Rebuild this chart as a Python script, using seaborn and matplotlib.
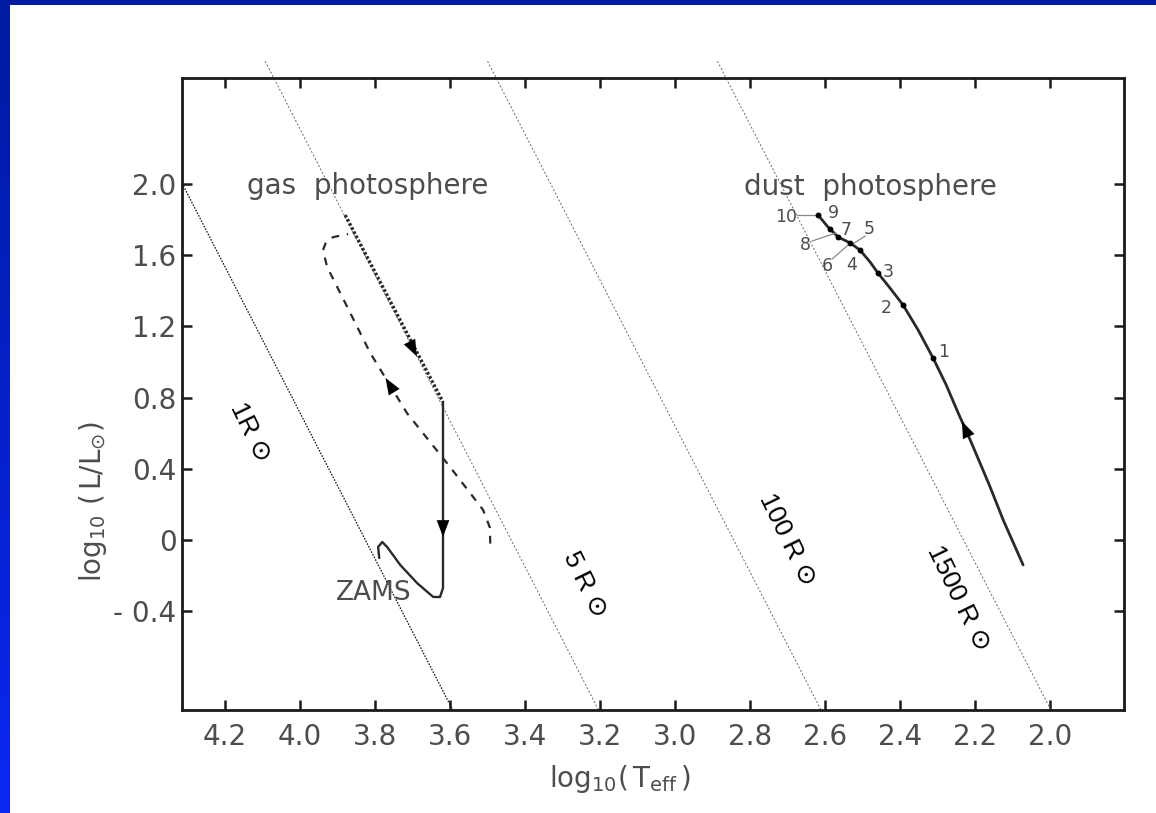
import numpy as np
import matplotlib
matplotlib.use("Agg")
import matplotlib.pyplot as plt
from matplotlib.patches import Rectangle
import seaborn as sns

# ---- data: HR-diagram tracks in (log10 Teff, log10 L/Lsun) ----
# gas photosphere: contraction (dotted), drop to the ZAMS (solid), return loop (dashed)
gas_descent_x = [3.880, 3.619]
gas_descent_y = [1.826, 0.775]
gas_drop_x = [3.619, 3.619, 3.627, 3.645, 3.688, 3.733, 3.768, 3.781, 3.792, 3.789]
gas_drop_y = [0.775, -0.270, -0.320, -0.320, -0.242, -0.140, -0.039, -0.011, -0.039, -0.101]
gas_loop_x = [3.493, 3.494, 3.512, 3.600, 3.715, 3.813, 3.893, 3.928, 3.939, 3.931, 3.912, 3.872]
gas_loop_y = [-0.020, 0.070, 0.169, 0.410, 0.713, 1.051, 1.388, 1.534, 1.629, 1.674, 1.702, 1.719]

# dust photosphere track
dust_x = [2.619, 2.592, 2.565, 2.533, 2.507, 2.480, 2.459, 2.427, 2.392, 2.352, 2.312,
          2.277, 2.245, 2.213, 2.179, 2.160, 2.125, 2.072]
dust_y = [1.826, 1.758, 1.702, 1.669, 1.629, 1.562, 1.500, 1.416, 1.320, 1.180, 1.022,
          0.871, 0.713, 0.562, 0.393, 0.298, 0.112, -0.140]
# numbered epochs marked along the dust track
epoch_dot_x = [2.619, 2.587, 2.565, 2.533, 2.507, 2.459, 2.392, 2.312]
epoch_dot_y = [1.826, 1.747, 1.702, 1.669, 1.629, 1.500, 1.320, 1.022]
epoch_labels = ["10", "9", "7", "5", "8", "6", "4", "3", "2", "1"]
epoch_label_x = [2.704, 2.579, 2.544, 2.483, 2.653, 2.595, 2.528, 2.432, 2.437, 2.285]
epoch_label_y = [1.815, 1.837, 1.742, 1.747, 1.657, 1.539, 1.545, 1.506, 1.303, 1.056]
leader_x = [[2.675, 2.624], [2.635, 2.571], [2.493, 2.531], [2.581, 2.536]]
leader_y = [[1.826, 1.826], [1.680, 1.725], [1.708, 1.657], [1.579, 1.663]]

# lines of constant radius: log L = slope * (log T - x0)
radius_labels = ["1R \u2299", "5 R \u2299", "100 R \u2299", "1500 R \u2299"]
radius_x0 = [3.826, 3.437, 2.844, 2.231]
radius_slope = 4.1
radius_y_top = [1.99, 2.69, 2.69, 2.69]
radius_y_bottom = -0.966
radius_label_x = [4.133, 3.240, 2.701, 2.245]
radius_label_y = [0.607, -0.253, 0.000, -0.326]

x_ticks = [4.2, 4.0, 3.8, 3.6, 3.4, 3.2, 3.0, 2.8, 2.6, 2.4, 2.2, 2.0]
x_tick_labels = ["4.2", "4.0", "3.8", "3.6", "3.4", "3.2", "3.0", "2.8", "2.6", "2.4", "2.2", "2.0"]
y_ticks = [2.0, 1.6, 1.2, 0.8, 0.4, 0.0, -0.4]
y_tick_labels = ["2.0", "1.6", "1.2", "0.8", "0.4", "0", "- 0.4"]

# ---- figure ----
sns.set_theme(style="ticks")
plt.rcParams["font.family"] = ["DejaVu Sans"]
plt.rcParams["mathtext.fontset"] = "dejavusans"

W, H = 1156, 813
fig = plt.figure(figsize=(W / 100, H / 100), dpi=100)
fig.patch.set_facecolor("white")

# blue slide frame: flat strip on top, graded strip on the left
fig.add_artist(Rectangle((0, 1 - 5 / H), 1, 5 / H, transform=fig.transFigure,
                         facecolor="#001aa0", edgecolor="none", zorder=0))
strip = fig.add_axes([0, 0, 10 / W, 1 - 5 / H])
grad = np.linspace(0, 1, 256)[:, None]
c_top = np.array([0x00, 0x1a, 0xa0]) / 255
c_bot = np.array([0x0a, 0x28, 0xf2]) / 255
strip.imshow(c_top + grad[..., None] * (c_bot - c_top), aspect="auto",
             extent=[0, 1, 0, 1], origin="upper")
strip.set_axis_off()

ax = fig.add_axes([182 / W, 103 / H, 942 / W, 632 / H])
ax.set_facecolor("white")
ax.set_xlim(4.315, 1.803)
ax.set_ylim(-0.955, 2.596)

ink = "#2a2a2a"
scan_text = "#4d4d4d"

# constant-radius lines
for i, x0 in enumerate(radius_x0):
    ys = np.array([radius_y_top[i], radius_y_bottom])
    xs = x0 + ys / radius_slope
    if i == 0:
        sns.lineplot(x=xs, y=ys, sort=False, estimator=None, ax=ax, color="black",
                     lw=0.9, linestyle=(0, (1.2, 1.2)), clip_on=True)
    else:
        sns.lineplot(x=xs, y=ys, sort=False, estimator=None, ax=ax, color="#666666",
                     lw=0.7, linestyle=(0, (2, 2)), clip_on=False)
    ax.text(radius_label_x[i], radius_label_y[i], radius_labels[i], rotation=-64,
            rotation_mode="anchor", ha="center", va="center", fontsize=19, color="black",
            family=["Liberation Sans", "DejaVu Sans"])

# gas photosphere tracks
sns.lineplot(x=gas_descent_x, y=gas_descent_y, sort=False, estimator=None, ax=ax,
             color=ink, lw=2.4, linestyle=(0, (0.8, 0.6)))
sns.lineplot(x=gas_drop_x, y=gas_drop_y, sort=False, estimator=None, ax=ax,
             color=ink, lw=1.7)
sns.lineplot(x=gas_loop_x, y=gas_loop_y, sort=False, estimator=None, ax=ax,
             color=ink, lw=1.6, linestyle=(0, (3.5, 3.5)))

# dust photosphere track
sns.lineplot(x=dust_x, y=dust_y, sort=False, estimator=None, ax=ax, color=ink, lw=2.0)
sns.scatterplot(x=epoch_dot_x, y=epoch_dot_y, ax=ax, color="black", s=18, linewidth=0,
                zorder=4)
for lx, ly in zip(leader_x, leader_y):
    ax.plot(lx, ly, color="#888888", lw=0.9)
for lab, lx, ly in zip(epoch_labels, epoch_label_x, epoch_label_y):
    ax.text(lx, ly, lab, ha="center", va="center", fontsize=12.5, color=scan_text)


def arrow_on(xs, ys, i, reverse=False):
    a = np.array([xs[i], ys[i]])
    b = np.array([xs[i + 1], ys[i + 1]])
    if reverse:
        a, b = b, a
    mid = (a + b) / 2
    d = (b - a) / np.hypot(*(b - a)) * 0.03
    ax.annotate("", xy=mid + d, xytext=mid - d,
                arrowprops=dict(arrowstyle="-|>,head_length=1.0,head_width=0.38",
                                color="black", lw=0, shrinkA=0, shrinkB=0))


arrow_on([3.880, 3.701, 3.690, 3.619], [1.826, 1.084, 1.037, 0.775], 1)
arrow_on([3.619, 3.619, 3.619], [0.775, 0.096, 0.0], 1)
arrow_on(gas_loop_x, gas_loop_y, 4)
arrow_on(dust_x, dust_y, 12, reverse=True)

ax.text(3.819, 1.99, "gas  photosphere", ha="center", va="center", fontsize=20,
        color=scan_text)
ax.text(2.480, 1.985, "dust  photosphere", ha="center", va="center", fontsize=20,
        color=scan_text)
ax.text(3.805, -0.298, "ZAMS", ha="center", va="center", fontsize=19, color=scan_text)

# axes frame and ticks
for side in ["left", "right", "top", "bottom"]:
    ax.spines[side].set_visible(True)
    ax.spines[side].set_linewidth(2.0)
    ax.spines[side].set_color("#1a1a1a")
ax.set_xticks(x_ticks)
ax.set_xticklabels(x_tick_labels)
ax.set_yticks(y_ticks)
ax.set_yticklabels(y_tick_labels)
ax.tick_params(direction="in", length=7, width=1.8, color="#1a1a1a", top=True,
               right=True, labelsize=20, labelcolor=scan_text)
ax.tick_params(axis="x", pad=9)
ax.tick_params(axis="y", pad=4)
ax.grid(False)

ax.set_xlabel(r"$\mathrm{log_{10}(\,T_{eff}\,)}$", fontsize=20, color=scan_text)
ax.xaxis.set_label_coords(0.465, -0.084)
ax.set_ylabel(r"$\mathrm{log_{10}\ (\,L/L_{\odot})}$", fontsize=20, color=scan_text)
ax.yaxis.set_label_coords(-0.078, 0.33)

fig.savefig("out.png", dpi=100, facecolor=fig.get_facecolor())
